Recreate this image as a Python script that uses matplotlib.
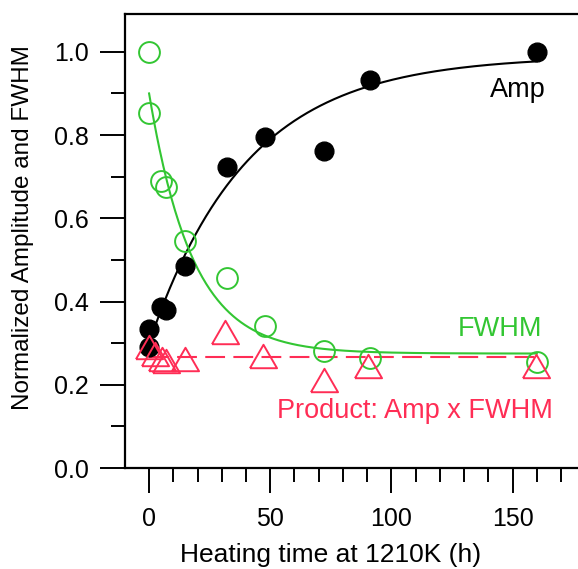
"""
Normalized amplitude / FWHM vs heating time at 1210K, Igor-style plot.
"""
import numpy as np
import matplotlib
matplotlib.use("Agg")
import matplotlib.pyplot as plt

plt.rcParams["font.family"] = ["Liberation Sans", "DejaVu Sans"]

# data
amp_t = [0, 0, 5, 7, 15, 32, 48, 72, 91, 160]
amp_y = [0.29, 0.335, 0.387, 0.38, 0.486, 0.724, 0.796, 0.762, 0.933, 1.0]

fwhm_t = [0, 0, 5, 7, 15, 32, 48, 72, 91, 160]
fwhm_y = [1.0, 0.853, 0.69, 0.675, 0.545, 0.456, 0.34, 0.28, 0.265, 0.255]

prod_t = [0, 2.5, 5.5, 7, 15, 31.5, 47, 72, 90.5, 159.5]
prod_y = [0.29, 0.275, 0.262, 0.258, 0.262, 0.327, 0.27, 0.212, 0.246, 0.246]

# exponential fit parameters
amp_fit = dict(c=0.99, b=0.69, tau=40.3)      # y = c - b*exp(-t/tau)
fwhm_fit = dict(c=0.275, a=0.625, tau=17.9)   # y = c + a*exp(-t/tau)
prod_level = 0.267

GREEN = "#33c633"
RED = "#ff2d55"

# open triangle, centred on its bounding box, a bit flatter than '^'
tri = [(-1, -0.866), (1, -0.866), (0, 0.866), (-1, -0.866)]

fig = plt.figure(figsize=(5.78, 5.69), dpi=100)
ax = fig.add_axes([0.216, 0.1775, 0.805, 0.798])

t = np.linspace(0, 160, 300)
ax.plot(t, amp_fit["c"] - amp_fit["b"] * np.exp(-t / amp_fit["tau"]), color="black", lw=1.5, zorder=2)
ax.plot(t, fwhm_fit["c"] + fwhm_fit["a"] * np.exp(-t / fwhm_fit["tau"]), color=GREEN, lw=1.5, zorder=2)
ax.plot([0, 160], [prod_level, prod_level], color=RED, lw=1.5, ls=(0, (9.5, 4)), zorder=2)

ax.plot(amp_t, amp_y, "o", color="black", ms=13.5, zorder=3)
ax.plot(fwhm_t, fwhm_y, "o", mfc="none", mec=GREEN, mew=1.4, ms=15, zorder=4)
ax.plot(prod_t, prod_y, marker=tri, ls="none", mfc="none", mec=RED, mew=1.4, ms=19.5, zorder=4)

ax.text(163.6, 0.892, "Amp", color="black", fontsize=19.5, ha="right", va="baseline")
ax.text(162.4, 0.317, "FWHM", color=GREEN, fontsize=19.5, ha="right", va="baseline")
ax.text(166.5, 0.120, "Product: Amp x FWHM", color=RED, fontsize=19.5, ha="right", va="baseline")

ax.set_xlim(-10, 182)
ax.set_ylim(0, 1.091)
ax.set_xticks([0, 50, 100, 150])
ax.set_xticks(np.arange(0, 181, 10), minor=True)
ax.set_yticks([0.0, 0.2, 0.4, 0.6, 0.8, 1.0])
ax.set_yticks([0.1, 0.3, 0.5, 0.7, 0.9], minor=True)
ax.set_yticklabels(["0.0", "0.2", "0.4", "0.6", "0.8", "1.0"])

ax.tick_params(which="major", direction="out", length=18, width=1.4, labelsize=18)
ax.tick_params(axis="y", which="major", pad=8)
ax.tick_params(axis="x", which="major", pad=10)
ax.tick_params(which="minor", direction="out", length=10, width=1.4)
for side in ["left", "bottom", "top", "right"]:
    ax.spines[side].set_linewidth(1.6)

ax.set_xlabel("Heating time at 1210K (h)", fontsize=19)
ax.set_ylabel("Normalized Amplitude and FWHM", fontsize=17.5)
ax.xaxis.set_label_coords((331 - 125) / (0.805 * 578), -(562 - 468) / (0.798 * 569))
ax.yaxis.set_label_coords(-(125 - 23) / (0.805 * 578), (468 - 228) / (0.798 * 569))
ax.xaxis.label.set_va("baseline")
ax.yaxis.label.set_va("center")

fig.savefig("out.png", dpi=100)
